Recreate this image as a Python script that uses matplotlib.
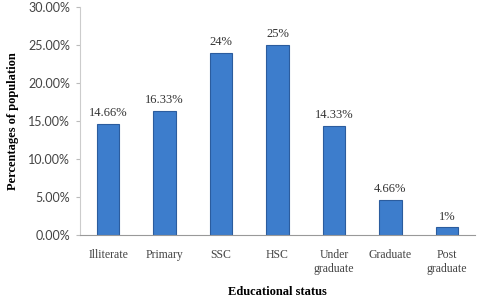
import matplotlib
matplotlib.use("Agg")
import matplotlib.pyplot as plt
from matplotlib.ticker import FuncFormatter

categories = ["Illiterate", "Primary", "SSC", "HSC", "Under\ngraduate", "Graduate", "Post\ngraduate"]
values = [14.66, 16.33, 24, 25, 14.33, 4.66, 1]
labels = ["14.66%", "16.33%", "24%", "25%", "14.33%", "4.66%", "1%"]

fig = plt.figure(figsize=(4.78, 2.99), dpi=100)
ax = fig.add_axes([0.167, 0.214, 0.827, 0.763])

x = range(len(categories))
bars = ax.bar(x, values, width=0.4, color="#3d7dcc", edgecolor="#2b5c9e", linewidth=0.8)
for b, lab in zip(bars, labels):
    ax.text(b.get_x() + b.get_width() / 2, b.get_height() + 0.6, lab,
            ha="center", va="bottom", family="Liberation Serif", fontsize=9, color="#333333")

ax.set_xlim(-0.5, len(categories) - 0.5)
ax.set_ylim(0, 30)
ax.set_yticks([0, 5, 10, 15, 20, 25, 30])
ax.yaxis.set_major_formatter(FuncFormatter(lambda v, p: "%.2f%%" % v))
for t in ax.get_yticklabels():
    t.set_family("Lato")
    t.set_fontsize(9)
    t.set_color("#444444")
ax.set_xticks(list(x))
ax.set_xticklabels(categories, family="Liberation Serif", fontsize=8.5, color="#444444")
ax.tick_params(axis="x", length=0, pad=10)
ax.tick_params(axis="y", length=3, color="#bbbbbb", pad=4)

ax.spines["top"].set_visible(False)
ax.spines["right"].set_visible(False)
ax.spines["left"].set_color("#cccccc")
ax.spines["bottom"].set_color("#999999")

ax.set_ylabel("Percentages of population", family="Liberation Serif", fontweight="bold", fontsize=9, labelpad=7)
ax.set_xlabel("Educational status", family="Liberation Serif", fontweight="bold", fontsize=9, labelpad=8)

fig.savefig("out.png", dpi=100)
